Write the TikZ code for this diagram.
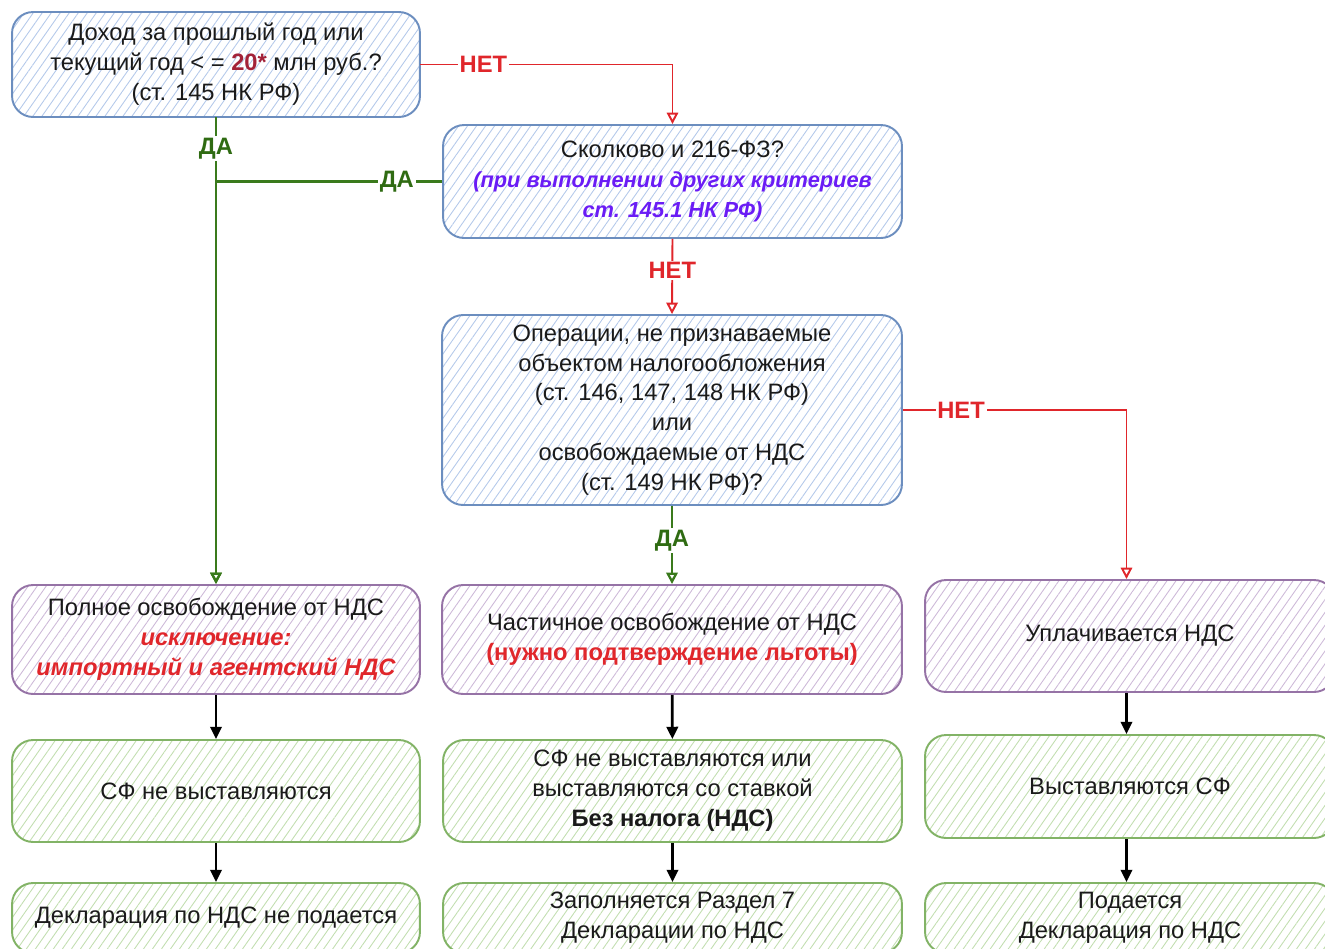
\documentclass[tikz,border=0pt]{standalone}
\usepackage{fontspec}
\setmainfont{Liberation Sans}
\usetikzlibrary{patterns.meta,arrows.meta}

\definecolor{bluestroke}{HTML}{6C8EBF}
\definecolor{bluehatch}{HTML}{B4C9EA}
\definecolor{purplestroke}{HTML}{9673A6}
\definecolor{purplehatch}{HTML}{CDB9D8}
\definecolor{greenstroke}{HTML}{82B366}
\definecolor{greenhatch}{HTML}{C2DEB0}
\definecolor{yesgreen}{HTML}{3A7A1C}
\definecolor{yestext}{HTML}{2F6B12}
\definecolor{nored}{HTML}{E0262B}
\definecolor{notetext}{HTML}{6A1CF5}
\definecolor{amount}{HTML}{A32238}
\definecolor{ink}{HTML}{1A1A1A}

\newcommand{\notefont}{\fontsize{12.4}{17}\selectfont\bfseries\itshape\color{notetext}}

\tikzset{
  hatch/.style={pattern={Lines[angle=55,distance=4.2pt,line width=0.5pt]}},
  box/.style={draw, rounded corners=12, line width=1.1pt, align=center,
    text=ink, inner sep=2pt,
    font=\fontsize{13.5}{17}\selectfont},
  bluebox/.style={box, hatch, draw=bluestroke, pattern color=bluehatch},
  purplebox/.style={box, hatch, draw=purplestroke, pattern color=purplehatch},
  greenbox/.style={box, hatch, draw=greenstroke, pattern color=greenhatch},
  yesline/.style={draw=yesgreen, line width=1.3pt, -{Triangle[open,length=6.5pt,width=6.5pt]}},
  noline/.style={draw=nored, line width=1.1pt, -{Triangle[open,length=6.5pt,width=6.5pt]}},
  nextline/.style={draw=black, line width=1.5pt, -{Triangle[length=7pt,width=6.5pt]}},
  yeslabel/.style={fill=white, inner sep=1pt, text=yestext,
    font=\fontsize{13.5}{15}\selectfont\bfseries},
  nolabel/.style={fill=white, inner sep=1pt, text=nored,
    font=\fontsize{13.5}{15}\selectfont\bfseries},
}

\begin{document}
\begin{tikzpicture}[x=0.02cm,y=-0.02cm]
\useasboundingbox (0,0) rectangle (1325,948);
\clip (0,0) rectangle (1325,948);

% decision boxes
\node[bluebox, minimum width=8.16cm, minimum height=2.1cm] (income) at (216,64.5)
  {Доход за прошлый год или\\текущий год < = {\bfseries\color{amount}20*} млн руб.?\\(ст. 145 НК РФ)};
\node[bluebox, minimum width=9.18cm, minimum height=2.26cm] (skolkovo) at (672.5,181.5)
  {Сколково и 216-ФЗ?\\{\notefont (при выполнении других критериев}\\{\notefont ст. 145.1 НК РФ)}};
\node[bluebox, minimum width=9.2cm, minimum height=3.8cm] (operations) at (672,410)
  {Операции, не признаваемые\\объектом налогообложения\\(ст. 146, 147, 148 НК РФ)\\или\\освобождаемые от НДС\\(ст. 149 НК РФ)?};

% outcome boxes
\node[purplebox, minimum width=8.16cm, minimum height=2.18cm] (full) at (216,639.5)
  {Полное освобождение от НДС\\{\color{nored}\bfseries\itshape исключение:}\\{\color{nored}\bfseries\itshape импортный и агентский НДС}};
\node[purplebox, minimum width=9.2cm, minimum height=2.18cm] (partial) at (672,639.5)
  {Частичное освобождение от НДС\\{\color{nored}\bfseries (нужно подтверждение льготы)}};
\node[purplebox, minimum width=8.2cm, minimum height=2.24cm] (pay) at (1130,636)
  {Уплачивается НДС};

% invoices
\node[greenbox, minimum width=8.16cm, minimum height=2.04cm] (noinv) at (216,791)
  {СФ не выставляются};
\node[greenbox, minimum width=9.18cm, minimum height=2.04cm] (zeroinv) at (672.5,791)
  {СФ не выставляются или\\выставляются со ставкой\\{\bfseries Без налога (НДС)}};
\node[greenbox, minimum width=8.2cm, minimum height=2.06cm] (inv) at (1130,786.5)
  {Выставляются СФ};

% declarations
\node[greenbox, minimum width=8.16cm, minimum height=1.4cm] (nodecl) at (216,918)
  {Декларация по НДС не подается};
\node[greenbox, minimum width=9.18cm, minimum height=1.4cm] (sect7) at (672.5,918)
  {Заполняется Раздел 7\\Декларации по НДС};
\node[greenbox, minimum width=8.2cm, minimum height=1.4cm] (decl) at (1130,918)
  {Подается\\Декларация по НДС};

% decision branches
\draw[yesline] (income.south) -- node[yeslabel, pos=0.066] {ДА} (full.north);
\draw[yesline] (skolkovo.west) -| node[yeslabel, pos=0.1] {ДА} (full.north);
\draw[noline] (income.east) -| node[nolabel, pos=0.125] {НЕТ} (skolkovo.north);
\draw[noline] (skolkovo.south) -- node[nolabel, pos=0.42] {НЕТ} (operations.north);
\draw[noline] (operations.east) -| node[nolabel, pos=0.13] {НЕТ} ([xshift=-2]pay.north);
\draw[yesline] (operations.south) -- node[yeslabel, pos=0.44] {ДА} (partial.north);

% consequences
\draw[nextline] (full) -- (noinv);
\draw[nextline] (partial) -- (zeroinv);
\draw[nextline] ([xshift=-2]pay.south) -- ([xshift=-2]inv.north);
\draw[nextline] (noinv) -- (nodecl);
\draw[nextline] (zeroinv) -- (sect7);
\draw[nextline] ([xshift=-2]inv.south) -- ([xshift=-2]decl.north);
\end{tikzpicture}
\end{document}
